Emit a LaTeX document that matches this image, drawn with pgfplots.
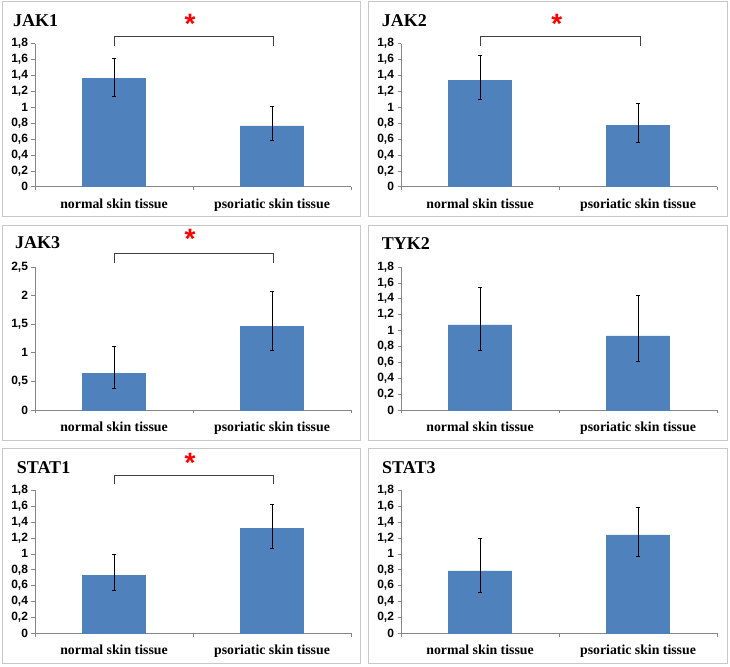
\documentclass[border=0pt]{standalone}
\usepackage{fontspec}
\setmainfont{Liberation Serif}
\newfontfamily\arialfont{Liberation Sans}
\usepackage{pgfplots}
\pgfplotsset{compat=1.18}
\definecolor{barblue}{HTML}{4F81BD}
\definecolor{axisgray}{HTML}{868686}
\definecolor{framegray}{HTML}{C8C8C8}
\definecolor{starred}{HTML}{FF0000}
\pgfplotsset{
  panel/.style={
    scale only axis, width=316pt, height=143pt, anchor=south west,
    axis x line*=bottom, axis y line*=left,
    axis line style={draw=axisgray, line width=0.6pt},
    tick style={draw=axisgray, line width=0.6pt},
    tick align=outside, major tick length=3.5pt,
    xmin=-0.5, xmax=1.5, ymin=0,
    xtick={-0.5,0.5,1.5},
    x tick label as interval,
    xticklabels={normal skin tissue, psoriatic skin tissue},
    xticklabel style={font=\bfseries\fontsize{13.8}{14}\selectfont, text=black, yshift=-5pt},
    yticklabel style={font=\arialfont\bfseries\fontsize{12}{13}\selectfont, text=black},
    /pgf/number format/use comma,
    /pgf/number format/fixed,
    /pgf/number format/assume math mode=true,
    ybar, bar width=0.4,
    clip=false,
  },
  ticks18/.style={ymax=1.8, ytick={0,0.2,0.4,0.6,0.8,1,1.2,1.4,1.6,1.8}},
  barplot/.style={fill=barblue, draw=barblue,
    error bars/.cd, y dir=both, y explicit,
    error bar style={black, line width=0.6pt},
    error mark options={black, line width=0.6pt, mark size=1.6pt, rotate=90}},
}
\newcommand{\titlefont}{\bfseries\fontsize{18}{18}\selectfont}
\newcommand{\starfont}{\arialfont\bfseries\fontsize{28}{28}\selectfont}
\begin{document}
\begin{tikzpicture}
\useasboundingbox (0pt,0pt) rectangle (730pt,666pt);
\fill[white] (0pt,0pt) rectangle (730pt,666pt);
\begin{scope}[x=1pt,y=1pt]
% frames
\draw[framegray, line width=0.8pt] (2.5,450) rectangle (360.5,664.5);
\draw[framegray, line width=0.8pt] (368,450) rectangle (727,664.5);
\draw[framegray, line width=0.8pt] (2.5,226) rectangle (360.5,441);
\draw[framegray, line width=0.8pt] (368,226) rectangle (727,441);
\draw[framegray, line width=0.8pt] (2.5,3) rectangle (360.5,218);
\draw[framegray, line width=0.8pt] (368,3) rectangle (727,218);
\end{scope}

% JAK1
\begin{axis}[panel, ticks18, at={(35pt,479.3pt)}]
\addplot[barplot] coordinates {(0,1.36) += (0,0.26) -= (0,0.22) (1,0.766) += (0,0.24) -= (0,0.186)};
\end{axis}
% JAK2
\begin{axis}[panel, ticks18, at={(401pt,479.3pt)}]
\addplot[barplot] coordinates {(0,1.34) += (0,0.32) -= (0,0.24) (1,0.77) += (0,0.285) -= (0,0.205)};
\end{axis}
% JAK3
\begin{axis}[panel, ymax=2.5, ytick={0,0.5,1,1.5,2,2.5}, at={(35pt,256pt)}]
\addplot[barplot] coordinates {(0,0.64) += (0,0.465) -= (0,0.262) (1,1.465) += (0,0.605) -= (0,0.418)};
\end{axis}
% TYK2
\begin{axis}[panel, ticks18, at={(401pt,256pt)}]
\addplot[barplot] coordinates {(0,1.07) += (0,0.47) -= (0,0.317) (1,0.933) += (0,0.515) -= (0,0.326)};
\end{axis}
% STAT1
\begin{axis}[panel, ticks18, at={(35pt,32.7pt)}]
\addplot[barplot] coordinates {(0,0.728) += (0,0.269) -= (0,0.181) (1,1.325) += (0,0.302) -= (0,0.253)};
\end{axis}
% STAT3
\begin{axis}[panel, ticks18, at={(401pt,32.7pt)}]
\addplot[barplot] coordinates {(0,0.786) += (0,0.408) -= (0,0.269) (1,1.24) += (0,0.35) -= (0,0.273)};
\end{axis}

\begin{scope}[x=1pt,y=1pt]
% titles
\node[anchor=base west, font=\titlefont, inner sep=0] at (13,639.3) {JAK1};
\node[anchor=base west, font=\titlefont, inner sep=0] at (381.7,639.3) {JAK2};
\node[anchor=base west, font=\titlefont, inner sep=0] at (15,417) {JAK3};
\node[anchor=base west, font=\titlefont, inner sep=0] at (381.7,416.7) {TYK2};
\node[anchor=base west, font=\titlefont, inner sep=0] at (16.7,192.7) {STAT1};
\node[anchor=base west, font=\titlefont, inner sep=0] at (382,192.7) {STAT3};

% significance brackets
\draw[black!75, line width=0.8pt] (114,620.3) -- (114,629.3) -- (273.3,629.3) -- (273.3,620.3);
\node[anchor=base, text=starred, font=\starfont, inner sep=0] at (190,632) {*};
\draw[black!75, line width=0.8pt] (480.7,620.3) -- (480.7,629.3) -- (640.7,629.3) -- (640.7,620.3);
\node[anchor=base, text=starred, font=\starfont, inner sep=0] at (556.7,632) {*};
\draw[black!75, line width=0.8pt] (114,403.3) -- (114,412.7) -- (273.3,412.7) -- (273.3,403.3);
\node[anchor=base, text=starred, font=\starfont, inner sep=0] at (190,417) {*};
\draw[black!75, line width=0.8pt] (114,181.7) -- (114,190.3) -- (273.3,190.3) -- (273.3,181.7);
\node[anchor=base, text=starred, font=\starfont, inner sep=0] at (190,193.7) {*};
\end{scope}
\end{tikzpicture}
\end{document}
